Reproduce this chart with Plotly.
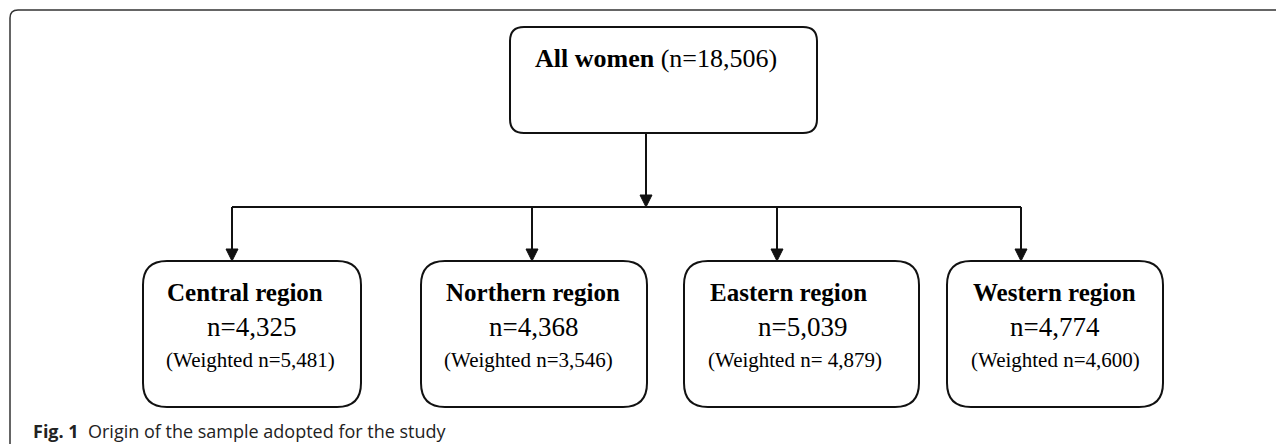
import plotly.graph_objects as go

# ---- data ----
top_label_bold = "All women"
top_count = "18,506"
regions = ["Central region", "Northern region", "Eastern region", "Western region"]
counts = ["4,325", "4,368", "5,039", "4,774"]
weighted = ["5,481", "3,546", " 4,879", "4,600"]
caption_bold = "Fig. 1"
caption_text = "Origin of the sample adopted for the study"

# ---- layout (page pixel coordinates, y downward) ----
W, H = 1284, 444
OFF = 8  # default page body margin
top_box = (510, 27, 817, 133)
boxes_x = [(143, 361), (421, 647), (684, 919), (947, 1163)]
box_y = (261, 407)
arrow_x = [232, 532, 777, 1021]
hline_y = 207
center_x = 646
title_x = [245, 533, 788, 1054]
n_x = [251, 533, 802, 1055]
w_x = [250, 528, 795, 1055]
title_y, n_y, w_y = 292, 327, 360

LC = "#111111"
shapes = []
annotations = []


def rrect(x0, y0, x1, y1, r):
    return (f"M {x0+r},{y0} L {x1-r},{y0} Q {x1},{y0} {x1},{y0+r} "
            f"L {x1},{y1-r} Q {x1},{y1} {x1-r},{y1} L {x0+r},{y1} "
            f"Q {x0},{y1} {x0},{y1-r} L {x0},{y0+r} Q {x0},{y0} {x0+r},{y0} Z")


def arrow(x, y0, y1):
    hh, hw = 12, 6
    shapes.append(dict(type="line", x0=x, x1=x, y0=y0, y1=y1 - hh + 1,
                       line=dict(color=LC, width=2)))
    shapes.append(dict(type="path",
                       path=f"M {x-hw},{y1-hh} L {x+hw},{y1-hh} L {x},{y1} Z",
                       fillcolor=LC, line=dict(color=LC, width=1)))


# outer frame (top + left edges with rounded corner)
shapes.append(dict(type="path",
                   path=f"M {W+5},10 L 18,10 Q 10,10 10,18 L 10,{H+5}",
                   line=dict(color="#333333", width=1.5)))

# top box
shapes.append(dict(type="path", path=rrect(*top_box, 14),
                   line=dict(color=LC, width=2), fillcolor="white"))
annotations.append(dict(
    x=656, y=58, xanchor="center", yanchor="middle", showarrow=False,
    text=f"<b>{top_label_bold}</b> (n={top_count})",
    font=dict(family="Liberation Serif", size=26, color="black")))

# connectors
arrow(center_x, top_box[3], hline_y)
shapes.append(dict(type="line", x0=arrow_x[0], x1=arrow_x[-1], y0=hline_y, y1=hline_y,
                   line=dict(color=LC, width=2)))

for i, reg in enumerate(regions):
    x0, x1 = boxes_x[i]
    arrow(arrow_x[i], hline_y, box_y[0])
    shapes.append(dict(type="path", path=rrect(x0, box_y[0], x1, box_y[1], 24),
                       line=dict(color=LC, width=2), fillcolor="white"))
    annotations.append(dict(x=title_x[i], y=title_y, text=f"<b>{reg}</b>",
                            showarrow=False, xanchor="center", yanchor="middle",
                            font=dict(family="Liberation Serif", size=25, color="black")))
    annotations.append(dict(x=n_x[i], y=n_y, text=f"n={counts[i]}",
                            showarrow=False, xanchor="center", yanchor="middle",
                            font=dict(family="Liberation Serif", size=27, color="black")))
    annotations.append(dict(x=w_x[i], y=w_y, text=f"(Weighted n={weighted[i]})",
                            showarrow=False, xanchor="center", yanchor="middle",
                            font=dict(family="Liberation Serif", size=21, color="black")))

# caption
annotations.append(dict(x=31, y=431, xanchor="left", yanchor="middle", showarrow=False,
                        text=f"<b>{caption_bold}</b>  {caption_text}",
                        font=dict(family="Open Sans", size=18, color="#222222")))

fig = go.Figure()
fig.update_layout(
    width=W - OFF, height=H - OFF, margin=dict(l=0, r=0, t=0, b=0),
    paper_bgcolor="white", plot_bgcolor="white",
    xaxis=dict(range=[OFF, W], visible=False, fixedrange=True),
    yaxis=dict(range=[H, OFF], visible=False, fixedrange=True),
    shapes=shapes, annotations=annotations, showlegend=False,
)
fig.write_html("out.html")
